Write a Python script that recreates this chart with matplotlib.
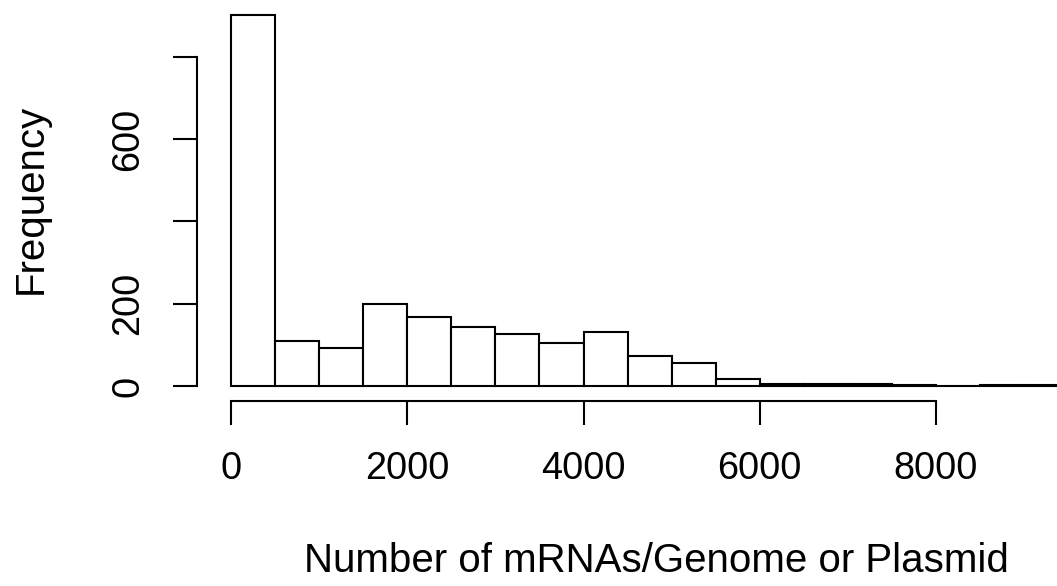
import matplotlib

matplotlib.use("Agg")
import matplotlib.pyplot as plt

# histogram bins (left edges) and counts
bin_left = [0, 500, 1000, 1500, 2000, 2500, 3000, 3500, 4000, 4500,
            5000, 5500, 6000, 6500, 7000, 7500, 8000, 8500, 9000]
bin_width = 500
counts = [902, 110, 92, 199, 167, 143, 126, 105, 131, 72,
          56, 16, 6, 6, 6, 3, 1, 3, 2]

x_ticks = [0, 2000, 4000, 6000, 8000]
y_ticks = [0, 200, 400, 600, 800]
y_tick_labels = ["0", "200", "", "600", ""]

plt.rcParams["font.family"] = ["Liberation Sans", "DejaVu Sans"]
plt.rcParams["font.size"] = 27.3

W, H = 1057, 586
fig = plt.figure(figsize=(W / 100, H / 100), dpi=100)

# axes box matches the R plot region (clipped at the right/top of the image)
ax = fig.add_axes([197 / W, (H - 401) / H, 1 - 197 / W, 401 / H])
ax.bar(bin_left, counts, width=bin_width, align="edge",
       facecolor="white", edgecolor="black", linewidth=1.5)

ax.set_xlim(-386, 9373)
ax.set_ylim(-36.5, 938.6)

for side in ("top", "right"):
    ax.spines[side].set_visible(False)
ax.spines["left"].set_bounds(0, 800)
ax.spines["bottom"].set_bounds(0, 8000)
for side in ("left", "bottom"):
    ax.spines[side].set_linewidth(1.5)

ax.set_xticks(x_ticks)
ax.set_xticklabels([str(t) for t in x_ticks])
ax.set_yticks(y_ticks)
ax.set_yticklabels(y_tick_labels, rotation=90, va="center")
ax.tick_params(axis="both", length=17.3, width=1.5, pad=19.0, direction="out")

fig.text(656 / W, (H - 572) / H, "Number of mRNAs/Genome or Plasmid",
         ha="center", va="baseline", fontsize=29)
fig.text(42 / W, (H - 199) / H, "Frequency", rotation=90,
         ha="center", va="baseline", fontsize=29, rotation_mode="anchor")

fig.savefig("out.png", dpi=100)
